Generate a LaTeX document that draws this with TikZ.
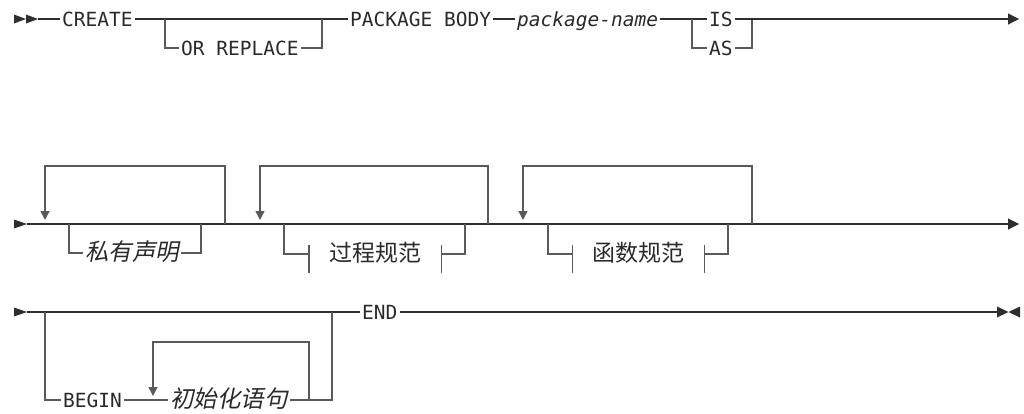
\documentclass[tikz,border=0pt]{standalone}
\usepackage{fontspec}
\usetikzlibrary{arrows.meta}
\newfontfamily\rmono{DejaVu Sans Mono}
\newfontfamily\cjk{Noto Sans CJK SC}
\newfontfamily\cjkit[FakeSlant=0.2]{Noto Sans CJK SC}
\definecolor{ink}{HTML}{2A2A2A}
\definecolor{railc}{HTML}{2E2E2E}
\definecolor{brc}{HTML}{5A5A5A}
\begin{document}
\begin{tikzpicture}[x=1pt,y=-1pt,
  kw/.style={font=\rmono\fontsize{19.5}{20}\selectfont, text=ink, inner xsep=2pt, inner ysep=0pt, text height=14pt, text depth=0pt, anchor=west},
  var/.style={kw, font=\rmono\itshape\fontsize{19.5}{20}\selectfont},
  cj/.style={font=\cjkit\fontsize{23.5}{24}\selectfont, text=ink, inner xsep=2pt, inner ysep=0pt, text height=14.4pt, text depth=0pt, anchor=west},
  refbox/.style={font=\cjk\fontsize{23}{24}\selectfont, text=ink, inner xsep=20pt, inner ysep=0pt, text height=14.4pt, text depth=0pt, anchor=center},
  rail/.style={draw=railc, line width=1.1pt},
  brl/.style={draw=brc, line width=1.4pt},
  tipr/.style={-{Triangle[length=11pt,width=11pt]}},
  dn/.style={-{Triangle[length=9pt,width=9pt]}}
]
\useasboundingbox (0,0) rectangle (1024,413);

% ---------- row 1 ----------
\coordinate (st1) at (38,19);
\fill[railc] (14,14.5) -- (26,19) -- (14,23.5) -- cycle;
\fill[railc] (26,14.5) -- (38,19) -- (26,23.5) -- cycle;
\node[kw] (create) at (60,19) {CREATE};
\node[kw] (orr) at (179,48) {OR REPLACE};
\node[kw] (pkg) at (348,19) {PACKAGE BODY};
\node[var] (pname) at (515,19) {package-name};
\node[kw] (is) at (707,19) {IS};
\node[kw] (as) at (707,48) {AS};
\coordinate (c1) at (165,19);
\coordinate (c2) at (322,19);
\coordinate (c3) at (692,19);
\coordinate (c4) at (752,19);
\coordinate (e1) at (1019,19);
\draw[rail] (st1) -- (create.west);
\draw[rail] (create.east) -- (pkg.west);
\draw[brl] (c1) |- (orr.west);
\draw[brl] (orr.east) -| (c2);
\draw[rail] (pkg.east) -- (pname.west);
\draw[rail] (pname.east) -- (is.west);
\draw[brl] (c3) |- (as.west);
\draw[brl] (as.east) -| (c4);
\draw[rail,tipr] (is.east) -- (e1);

% ---------- row 2 ----------
\coordinate (st2) at (27,224);
\coordinate (e2) at (1019,224);
\fill[railc] (14,219.5) -- (27,224) -- (14,228.5) -- cycle;
\draw[rail,tipr] (st2) -- (e2);
% loop 1
\coordinate (l1t) at (45,166);
\coordinate (l1a) at (45,220);
\coordinate (l1b) at (225,224);
\draw[brl,dn] (l1b) |- (l1t) -- (l1a);
\coordinate (b1l) at (69,224);
\coordinate (b1r) at (201,224);
\node[cj] (priv) at (83,253) {私有声明};
\draw[brl] (b1l) |- (priv.west);
\draw[brl] (priv.east) -| (b1r);
% loop 2
\coordinate (l2t) at (260,166);
\coordinate (l2a) at (260,220);
\coordinate (l2b) at (488,224);
\draw[brl,dn] (l2b) |- (l2t) -- (l2a);
\coordinate (b2l) at (284,224);
\coordinate (b2r) at (465,224);
\node[refbox] (proc) at (375,254) {过程规范};
\draw[brl] (b2l) |- (proc.west);
\draw[brl] (proc.east) -| (b2r);
\draw[brl] ([yshift=9pt]proc.west) -- ([yshift=-19pt]proc.west);
\draw[brl] ([yshift=9pt]proc.east) -- ([yshift=-19pt]proc.east);
% loop 3
\coordinate (l3t) at (523,166);
\coordinate (l3a) at (523,220);
\coordinate (l3b) at (752,224);
\draw[brl,dn] (l3b) |- (l3t) -- (l3a);
\coordinate (b3l) at (548,224);
\coordinate (b3r) at (728,224);
\node[refbox] (func) at (638.5,254) {函数规范};
\draw[brl] (b3l) |- (func.west);
\draw[brl] (func.east) -| (b3r);
\draw[brl] ([yshift=9pt]func.west) -- ([yshift=-19pt]func.west);
\draw[brl] ([yshift=9pt]func.east) -- ([yshift=-19pt]func.east);

% ---------- row 3 ----------
\coordinate (st3) at (27,312);
\fill[railc] (14,307.5) -- (27,312) -- (14,316.5) -- cycle;
\node[kw] (endk) at (360,312) {END};
\coordinate (fin) at (997,312);
\draw[rail] (st3) -- (endk.west);
\draw[rail] (endk.east) -- (fin);
\fill[railc] (997,306.5) -- (1008.5,312) -- (997,317.5) -- cycle;
\fill[railc] (1020,306.5) -- (1008.5,312) -- (1020,317.5) -- cycle;
\coordinate (b4l) at (45,312);
\coordinate (b4r) at (332,312);
\node[kw] (begin) at (61,400) {BEGIN};
\node[cj] (init) at (168,400) {初始化语句};
\coordinate (l4a) at (153,396);
\coordinate (l4t) at (153,342);
\coordinate (l4r) at (309,400);
\draw[brl] (b4l) |- (begin.west);
\draw[brl] (begin.east) -- (init.west);
\draw[brl] (init.east) -- (l4r) -| (b4r);
\draw[brl,dn] (l4r) |- (l4t) -- (l4a);
\end{tikzpicture}
\end{document}
